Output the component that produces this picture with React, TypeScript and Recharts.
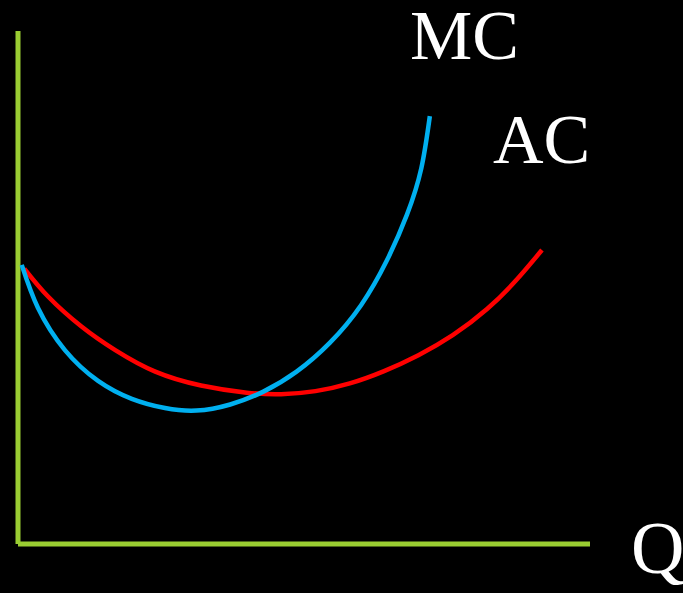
import React from "react";
import { ComposedChart, Line, XAxis, YAxis, ReferenceLine } from "recharts";

// Quantity (x) and cost (y) in abstract units
const mcQ = [0.65, 3.5, 8.2, 14.0, 19.9, 25.7, 31.2, 37.1, 42.9, 48.7, 54.5, 60.0, 64.5, 68.0, 70.5, 72.0];
const mcC = [54.4, 46.0, 37.8, 31.8, 28.3, 26.5, 26.0, 27.2, 29.7, 33.6, 39.2, 46.6, 55.3, 64.2, 73.2, 83.4];

const acQ = [1.1, 5.3, 11.1, 17.0, 24.0, 32.0, 40.0, 46.0, 52.0, 58.0, 64.0, 70.0, 76.0, 82.0, 87.0, 91.6];
const acC = [53.7, 48.2, 42.4, 37.8, 33.6, 30.9, 29.5, 29.2, 29.8, 31.3, 33.7, 36.8, 40.7, 45.8, 51.3, 57.3];

const labels = ["MC", "AC", "Q"];

const mcData = mcQ.map((q, i) => ({ q, mc: mcC[i] }));
const acData = acQ.map((q, i) => ({ q, ac: acC[i] }));

const W = 683;
const H = 593;
const GREEN = "#9acd32";
const BLUE = "#00b0f0";
const RED = "#ff0000";
const FONT = "'Liberation Serif', 'Times New Roman', serif";

export default function App() {
  return (
    <div
      style={{
        position: "fixed",
        left: 0,
        top: 0,
        width: W,
        height: H,
        background: "#000",
        overflow: "hidden",
      }}
    >
      <ComposedChart
        width={W}
        height={H}
        margin={{ top: 31, left: 18, right: 93, bottom: 49 }}
        style={{ position: "absolute", left: 0, top: 0 }}
      >
        <XAxis
          type="number"
          dataKey="q"
          domain={[0, 100]}
          hide
          allowDataOverflow
        />
        <YAxis type="number" domain={[0, 100]} hide allowDataOverflow />
        <ReferenceLine x={0} stroke={GREEN} strokeWidth={5} ifOverflow="visible" />
        <ReferenceLine y={0} stroke={GREEN} strokeWidth={5} ifOverflow="visible" />
        <Line
          data={acData}
          dataKey="ac"
          type="natural"
          stroke={RED}
          strokeWidth={4.5}
          dot={false}
          activeDot={false}
          isAnimationActive={false}
        />
        <Line
          data={mcData}
          dataKey="mc"
          type="natural"
          stroke={BLUE}
          strokeWidth={4.5}
          dot={false}
          activeDot={false}
          isAnimationActive={false}
        />
      </ComposedChart>
      <svg
        width={W}
        height={H}
        style={{ position: "absolute", left: 0, top: 0, pointerEvents: "none" }}
      >
        <text x={410} y={59} fill="#fff" fontFamily={FONT} fontSize={70}>
          {labels[0]}
        </text>
        <text x={493} y={163} fill="#fff" fontFamily={FONT} fontSize={70}>
          {labels[1]}
        </text>
        <text x={631} y={573} fill="#fff" fontFamily={FONT} fontSize={74}>
          {labels[2]}
        </text>
      </svg>
    </div>
  );
}
